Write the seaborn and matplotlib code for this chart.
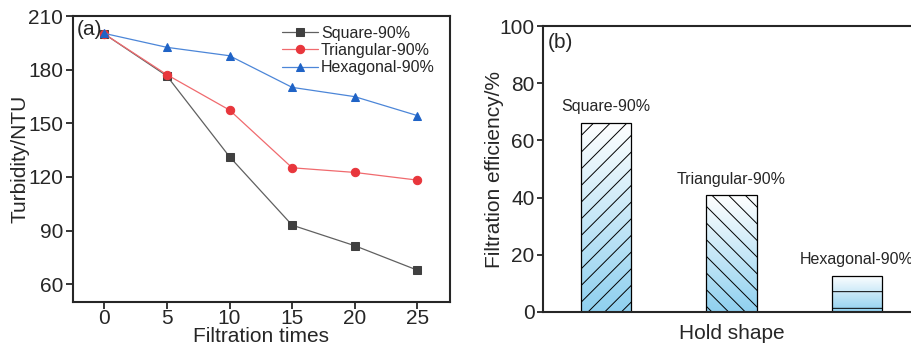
import matplotlib
matplotlib.use("Agg")
import matplotlib.pyplot as plt
import numpy as np
import pandas as pd
import seaborn as sns
from matplotlib.colors import LinearSegmentedColormap

# panel (a) data
times = [0, 5, 10, 15, 20, 25]
square = [200, 176.5, 131.3, 93, 81.5, 67.8]
triangular = [200, 177.2, 157.4, 125.1, 122.5, 118.2]
hexagonal = [200.3, 192.5, 187.8, 170.1, 164.9, 154.3]

# panel (b) data
shapes = ["Square-90%", "Triangular-90%", "Hexagonal-90%"]
efficiency = [66.2, 40.8, 12.7]
hatches = ["//", "\\\\", "-"]

sns.set_theme(style="ticks")
plt.rcParams["font.family"] = ["Liberation Sans", "DejaVu Sans"]
plt.rcParams["hatch.linewidth"] = 0.7
plt.rcParams["axes.linewidth"] = 1.5

fig = plt.figure(figsize=(9.11, 3.47), dpi=100)
ax1 = fig.add_axes([0.0801, 0.1297, 0.4138, 0.824])
ax2 = fig.add_axes([0.596, 0.1009, 0.4138, 0.824])

series = [("Square-90%", square, "s", "#404040", "#606060"),
          ("Triangular-90%", triangular, "o", "#e8363c", "#f06a6e"),
          ("Hexagonal-90%", hexagonal, "^", "#1f63c6", "#4c86d8")]
for name, vals, mk, mcol, lcol in series:
    sns.lineplot(x=times, y=vals, ax=ax1, color=lcol, linewidth=0.9,
                 marker=mk, markersize=6, markerfacecolor=mcol,
                 markeredgecolor=mcol, label=name)

ax1.set_xlim(-2.5, 27.6)
ax1.set_ylim(50, 210)
ax1.set_xticks(times)
ax1.set_yticks([60, 90, 120, 150, 180, 210])
ax1.tick_params(labelsize=15, length=5, width=1.3, direction="out", pad=2)
ax1.tick_params(axis="x", pad=0)
ax1.set_xlabel("Filtration times", fontsize=15, labelpad=-1)
ax1.set_ylabel("Turbidity/NTU", fontsize=15, labelpad=-1)
ax1.text(0.01, 0.985, "(a)", transform=ax1.transAxes, fontsize=15,
         ha="left", va="top")
leg = ax1.legend(loc="upper right", frameon=False, fontsize=11.5,
                 labelspacing=0.15, handlelength=2.2, handletextpad=0.2,
                 borderaxespad=0.2, bbox_to_anchor=(0.985, 1.0))
for sp in ax1.spines.values():
    sp.set_visible(True)

# panel (b)
df = pd.DataFrame({"shape": shapes, "eff": efficiency})
sns.barplot(data=df, x="shape", y="eff", ax=ax2, color="white",
            edgecolor="black", linewidth=0.9, width=0.4, saturation=1)

cmap = LinearSegmentedColormap.from_list("grad", ["#8fd0ef", "#ffffff"])
grad = np.linspace(0, 1, 256).reshape(-1, 1)
for p, h, name in zip(ax2.patches, hatches, shapes):
    p.set_facecolor("none")
    p.set_hatch(h)
    p.set_zorder(3)
    x0, y0 = p.get_x(), p.get_y()
    w, ht = p.get_width(), p.get_height()
    im = ax2.imshow(grad, cmap=cmap, origin="lower", aspect="auto",
                    extent=[x0, x0 + w, y0, y0 + ht], zorder=2)
    im.set_clip_path(p)
    ax2.annotate(name, (x0 + w / 2, y0 + ht),
                 xytext=(0, 6), textcoords="offset points",
                 ha="center", va="bottom", fontsize=11.5)

ax2.set_xlim(-0.5, 2.5)
ax2.set_ylim(0, 100)
ax2.set_yticks([0, 20, 40, 60, 80, 100])
ax2.set_xticks([0, 1, 2])
ax2.set_xticklabels([])
ax2.tick_params(axis="x", direction="in", length=7, width=1.5, zorder=5)
ax2.tick_params(axis="y", labelsize=15, length=4, width=1.3,
                direction="out", pad=2)
ax2.set_xlabel("Hold shape", fontsize=15, labelpad=5)
ax2.set_ylabel("Filtration efficiency/%", fontsize=15, labelpad=-3)
ax2.text(0.012, 0.975, "(b)", transform=ax2.transAxes, fontsize=15,
         ha="left", va="top")
for sp in ax2.spines.values():
    sp.set_visible(True)
    sp.set_zorder(6)

fig.savefig("out.png", dpi=100)
